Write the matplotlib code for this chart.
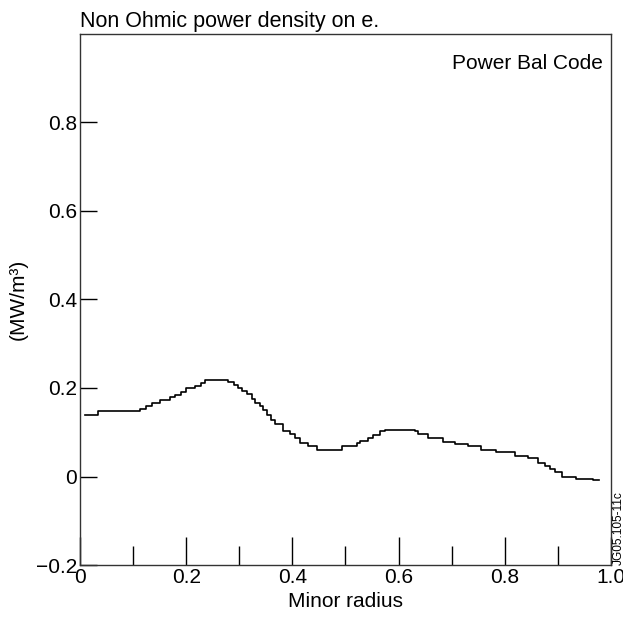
import numpy as np
import matplotlib.pyplot as plt
from matplotlib.ticker import MultipleLocator

plt.rcParams['font.family'] = ['Liberation Sans', 'DejaVu Sans']

# datos (radio menor, densidad de potencia MW/m^3)
radio = [0.010, 0.034, 0.113, 0.125, 0.135, 0.151, 0.169, 0.179, 0.190, 0.200,
         0.217, 0.228, 0.235, 0.248, 0.279, 0.290, 0.298, 0.306, 0.315, 0.323,
         0.330, 0.339, 0.345, 0.352, 0.360, 0.367, 0.383, 0.395, 0.405, 0.414,
         0.430, 0.446, 0.461, 0.493, 0.521, 0.527, 0.542, 0.552, 0.565, 0.574,
         0.587, 0.631, 0.637, 0.656, 0.684, 0.706, 0.731, 0.756, 0.784, 0.819,
         0.844, 0.863, 0.876, 0.885, 0.895, 0.907, 0.935, 0.966, 0.977]
potencia = [0.139, 0.148, 0.153, 0.160, 0.167, 0.173, 0.180, 0.184, 0.190, 0.199,
            0.205, 0.211, 0.218, 0.218, 0.213, 0.207, 0.200, 0.193, 0.186, 0.176,
            0.166, 0.160, 0.150, 0.138, 0.127, 0.118, 0.103, 0.096, 0.088, 0.076,
            0.070, 0.060, 0.060, 0.069, 0.075, 0.080, 0.087, 0.093, 0.102, 0.106,
            0.106, 0.102, 0.096, 0.088, 0.079, 0.074, 0.068, 0.060, 0.055, 0.046,
            0.041, 0.031, 0.024, 0.018, 0.011, -0.001, -0.006, -0.008, -0.008]

xticks = [0, 0.2, 0.4, 0.6, 0.8, 1.0]
xticklabels = ['0', '0.2', '0.4', '0.6', '0.8', '1.0']
yticks = [-0.2, 0, 0.2, 0.4, 0.6, 0.8]
yticklabels = ['\u22120.2', '0', '0.2', '0.4', '0.6', '0.8']

fig = plt.figure(figsize=(6.23, 6.28), dpi=100)
ax = fig.add_axes([0.1284, 0.1003, 0.8523, 0.8456])

ax.plot(radio, potencia, color='black', lw=1.2, drawstyle='steps-post')

ax.set_xlim(0, 1.0)
ax.set_ylim(-0.2, 1.0)
ax.set_xticks(xticks)
ax.set_xticklabels(xticklabels)
ax.xaxis.set_minor_locator(MultipleLocator(0.1))
ax.set_yticks(yticks)
ax.set_yticklabels(yticklabels)
ax.tick_params(axis='x', which='major', direction='in', length=20, width=1, labelsize=15, pad=2)
ax.tick_params(axis='x', which='minor', direction='in', length=14, width=1)
ax.tick_params(axis='y', which='major', direction='in', length=12, width=1, labelsize=15, pad=2)
for s in ax.spines.values():
    s.set_linewidth(1.0)
    s.set_color('#333333')

ax.set_xlabel('Minor radius', fontsize=15, labelpad=4)
ax.set_ylabel('(MW/m\u00b3)', fontsize=15, labelpad=6)
ax.text(0.0, 1.004, 'Non Ohmic power density on e.', transform=ax.transAxes,
        fontsize=15.5, ha='left', va='bottom')
ax.text(0.985, 0.962, 'Power Bal Code', transform=ax.transAxes,
        fontsize=15, ha='right', va='top')
ax.text(1.003, 0.0, 'JG05.105-11c', transform=ax.transAxes, fontsize=8.6,
        rotation=90, ha='left', va='bottom')

fig.savefig('out.png', dpi=100)
